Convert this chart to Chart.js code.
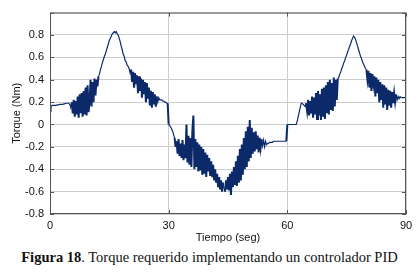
<!DOCTYPE html>
<html>
<head>
<meta charset="utf-8">
<script src="https://cdn.jsdelivr.net/npm/chart.js@4/dist/chart.umd.min.js"></script>
<style>
  html, body { margin: 0; padding: 0; background: #fff; }
  #wrap { width: 419px; height: 246px; position: relative; }
  #caption {
    width: 419px; text-align: center; margin-top: 3px;
    font-family: "Liberation Serif", "DejaVu Serif", serif; font-size: 14.5px; line-height: 16px; color: #111;
  }
</style>
</head>
<body>
<div id="wrap"><canvas id="torqueChart"></canvas></div>
<div id="caption"><b>Figura 18</b>. Torque requerido implementando un controlador PID</div>
<script>
// sampling interval of the recorded signal (s)
const dt = 0.25;
const xTicks = [0, 30, 60, 90];
const yMin = -0.8, yMax = 1.0, yStep = 0.2;

// torque (Nm), one row = 5 s
const torque = [
  0.12, 0.16, 0.17, 0.17, 0.17, 0.17, 0.17, 0.175, 0.175, 0.175, 0.18, 0.18, 0.18, 0.18, 0.185, 0.185, 0.19, 0.19, 0.19, 0.19,
  0.18, 0.15, 0.2, 0.1, 0.22, 0.07, 0.21, 0.09, 0.25, 0.06, 0.27, 0.1, 0.28, 0.07, 0.3, 0.09, 0.33, 0.08, 0.35, 0.11,
  0.2, 0.4, 0.16, 0.38, 0.2, 0.41, 0.26, 0.4, 0.34, 0.43, 0.45, 0.49, 0.52, 0.55, 0.58, 0.61, 0.63, 0.66, 0.69, 0.72,
  0.75, 0.77, 0.79, 0.81, 0.82, 0.83, 0.82, 0.83, 0.81, 0.8, 0.77, 0.74, 0.7, 0.67, 0.63, 0.61, 0.57, 0.56, 0.53, 0.52,
  0.5, 0.46, 0.49, 0.38, 0.47, 0.33, 0.46, 0.36, 0.44, 0.28, 0.43, 0.3, 0.41, 0.24, 0.4, 0.27, 0.38, 0.2, 0.37, 0.23,
  0.33, 0.17, 0.3, 0.15, 0.29, 0.18, 0.27, 0.16, 0.25, 0.2, 0.24, 0.22, 0.22, 0.22, 0.21, 0.21, 0.2, 0.2, 0.19, 0.19,
  0.0, -0.01, -0.02, -0.04, -0.06, -0.09, -0.12, -0.2, -0.15, -0.26, -0.13, -0.28, -0.17, -0.3, -0.14, -0.32, -0.18, -0.3, 0.0, -0.34,
  -0.1, -0.36, -0.12, -0.38, -0.05, 0.08, -0.4, -0.13, -0.38, -0.16, -0.42, -0.18, -0.41, -0.2, -0.45, -0.22, -0.44, -0.25, -0.47, -0.27,
  -0.42, -0.3, -0.46, -0.33, -0.47, -0.36, -0.5, -0.4, -0.52, -0.44, -0.56, -0.47, -0.58, -0.5, -0.6, -0.52, -0.57, -0.6, -0.5, -0.58,
  -0.47, -0.59, -0.44, -0.63, -0.42, -0.56, -0.38, -0.54, -0.33, -0.55, -0.28, -0.52, -0.22, -0.5, -0.18, -0.45, -0.12, -0.4, -0.06, -0.38,
  -0.02, -0.33, 0.04, -0.3, -0.03, -0.26, -0.07, -0.24, -0.06, -0.22, -0.1, -0.25, -0.12, -0.21, -0.13, -0.19, -0.14, -0.2, -0.15, -0.18,
  -0.17, -0.17, -0.16, -0.16, -0.16, -0.16, -0.15, -0.15, -0.15, -0.15, -0.15, -0.15, -0.15, -0.15, -0.15, -0.15, -0.15, -0.15, -0.15, -0.15,
  0.0, 0.0, 0.0, 0.0, 0.0, 0.0, 0.0, 0.0, 0.0, 0.0, 0.03, 0.07, 0.11, 0.15, 0.19, 0.19, 0.18, 0.17, 0.16, 0.19,
  0.12, 0.22, 0.08, 0.21, 0.1, 0.25, 0.06, 0.24, 0.09, 0.28, 0.05, 0.3, 0.08, 0.27, 0.04, 0.32, 0.07, 0.33, 0.05, 0.35,
  0.1, 0.38, 0.09, 0.4, 0.13, 0.37, 0.12, 0.42, 0.16, 0.4, 0.22, 0.41, 0.42, 0.45, 0.47, 0.5, 0.52, 0.55, 0.57, 0.6,
  0.62, 0.65, 0.67, 0.7, 0.72, 0.75, 0.77, 0.79, 0.78, 0.76, 0.73, 0.7, 0.67, 0.64, 0.61, 0.59, 0.56, 0.54, 0.52, 0.5,
  0.49, 0.4, 0.48, 0.33, 0.46, 0.3, 0.45, 0.36, 0.43, 0.25, 0.42, 0.28, 0.4, 0.2, 0.38, 0.22, 0.36, 0.15, 0.35, 0.18,
  0.33, 0.13, 0.31, 0.17, 0.3, 0.15, 0.29, 0.19, 0.28, 0.2, 0.27, 0.22, 0.25, 0.23, 0.25, 0.24, 0.24, 0.24, 0.24, 0.24,
  0.24
];

const points = torque.map((v, i) => ({ x: i * dt, y: v }));

// box around the plot with small inward tick marks, like the original figure
const framePlugin = {
  id: 'frame',
  afterDatasetsDraw(chart) {
    const { ctx, chartArea: a, scales } = chart;
    ctx.save();
    ctx.strokeStyle = '#555';
    ctx.lineWidth = 1;
    ctx.strokeRect(a.left + 0.5, a.top + 0.5, a.right - a.left - 1, a.bottom - a.top - 1);
    ctx.beginPath();
    scales.x.ticks.forEach(t => {
      const px = Math.round(scales.x.getPixelForValue(t.value)) + 0.5;
      ctx.moveTo(px, a.bottom); ctx.lineTo(px, a.bottom - 4);
      ctx.moveTo(px, a.top); ctx.lineTo(px, a.top + 4);
    });
    scales.y.ticks.forEach(t => {
      const py = Math.round(scales.y.getPixelForValue(t.value)) + 0.5;
      ctx.moveTo(a.left, py); ctx.lineTo(a.left + 4, py);
      ctx.moveTo(a.right, py); ctx.lineTo(a.right - 4, py);
    });
    ctx.stroke();
    ctx.restore();
  }
};

const font = { family: '"Liberation Sans", Arial, sans-serif', size: 11 };
const gridStyle = { color: '#cdcdcd', borderDash: [1, 2], drawTicks: false };

new Chart(document.getElementById('torqueChart').getContext('2d'), {
  type: 'line',
  data: {
    datasets: [{
      data: points,
      borderColor: '#0c2a6a',
      borderWidth: 1.2,
      // the fast oscillating stretches read as a solid dark band in the original
      segment: {
        borderWidth: c => Math.abs(c.p1.parsed.y - c.p0.parsed.y) > 0.06 ? 2 : 1.2
      },
      pointRadius: 0,
      tension: 0,
      fill: false
    }]
  },
  options: {
    responsive: true,
    maintainAspectRatio: false,
    animation: false,
    layout: { padding: { top: 5, right: 13, left: 0, bottom: 1 } },
    plugins: { legend: { display: false }, tooltip: { enabled: false } },
    scales: {
      x: {
        type: 'linear', min: 0, max: 90,
        afterBuildTicks: s => { s.ticks = xTicks.map(v => ({ value: v })); },
        afterFit: s => { s.height = 31; },
        ticks: { color: '#111', font, padding: 5, maxRotation: 0 },
        grid: gridStyle,
        border: { display: false },
        title: { display: true, text: 'Tiempo (seg)', color: '#111', font, padding: { top: 0, bottom: 0 } }
      },
      y: {
        min: yMin, max: yMax,
        ticks: {
          stepSize: yStep, color: '#111', font, padding: 6,
          callback: v => v > 0.9 ? '' : String(Number(v.toFixed(1)))
        },
        afterFit: s => { s.width = 50; },
        grid: gridStyle,
        border: { display: false },
        title: { display: true, text: 'Torque (Nm)', color: '#111', font, padding: { top: 10, bottom: 0 } }
      }
    }
  },
  plugins: [framePlugin]
});
</script>
</body>
</html>
